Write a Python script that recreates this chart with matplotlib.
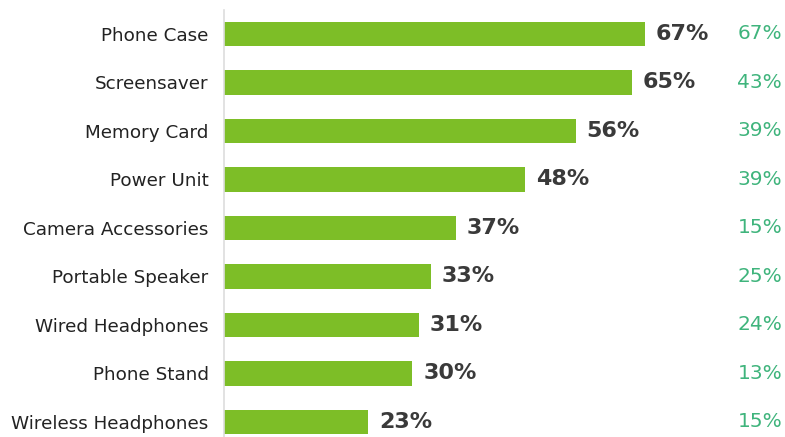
import matplotlib.pyplot as plt

categories = ['Phone Case', 'Screensaver', 'Memory Card', 'Power Unit',
              'Camera Accessories', 'Portable Speaker', 'Wired Headphones',
              'Phone Stand', 'Wireless Headphones']
values = [67, 65, 56, 48, 37, 33, 31, 30, 23]
second_values = [67, 43, 39, 39, 15, 25, 24, 13, 15]

BAR_COLOR = '#7dbe27'
LABEL_COLOR = '#3a3a3a'
SECOND_COLOR = '#3fb47c'

fig = plt.figure(figsize=(7.85, 4.37), dpi=100)
ax = fig.add_axes([224 / 785, 0, 561 / 785, 1])

pos = list(range(len(categories)))
ax.barh(pos, values, height=0.5, color=BAR_COLOR)

ax.set_xlim(0, 561 / 6.28)
ax.set_ylim((437 - 34) / 48.5, -34 / 48.5)

# value labels next to the bars
for p, v in zip(pos, values):
    ax.text(v + 1.7, p, f'{v}%', va='center', ha='left',
            fontsize=16, fontweight='bold', color=LABEL_COLOR)

# second column on the right
for p, v in zip(pos, second_values):
    ax.text(0.995, p, f'{v}%', va='center', ha='right',
            transform=ax.get_yaxis_transform(),
            fontsize=14.5, color=SECOND_COLOR)

ax.set_yticks(pos)
ax.set_yticklabels(categories, fontsize=13.2, color='#222222')
ax.tick_params(axis='y', length=0, pad=11)
ax.set_xticks([])

for side in ['top', 'right', 'bottom']:
    ax.spines[side].set_visible(False)
ax.spines['left'].set_color('#dddddd')
ax.spines['left'].set_linewidth(1.2)
ax.spines['left'].set_bounds(-0.5, (437 - 34) / 48.5)

fig.savefig('out.png', dpi=100)
